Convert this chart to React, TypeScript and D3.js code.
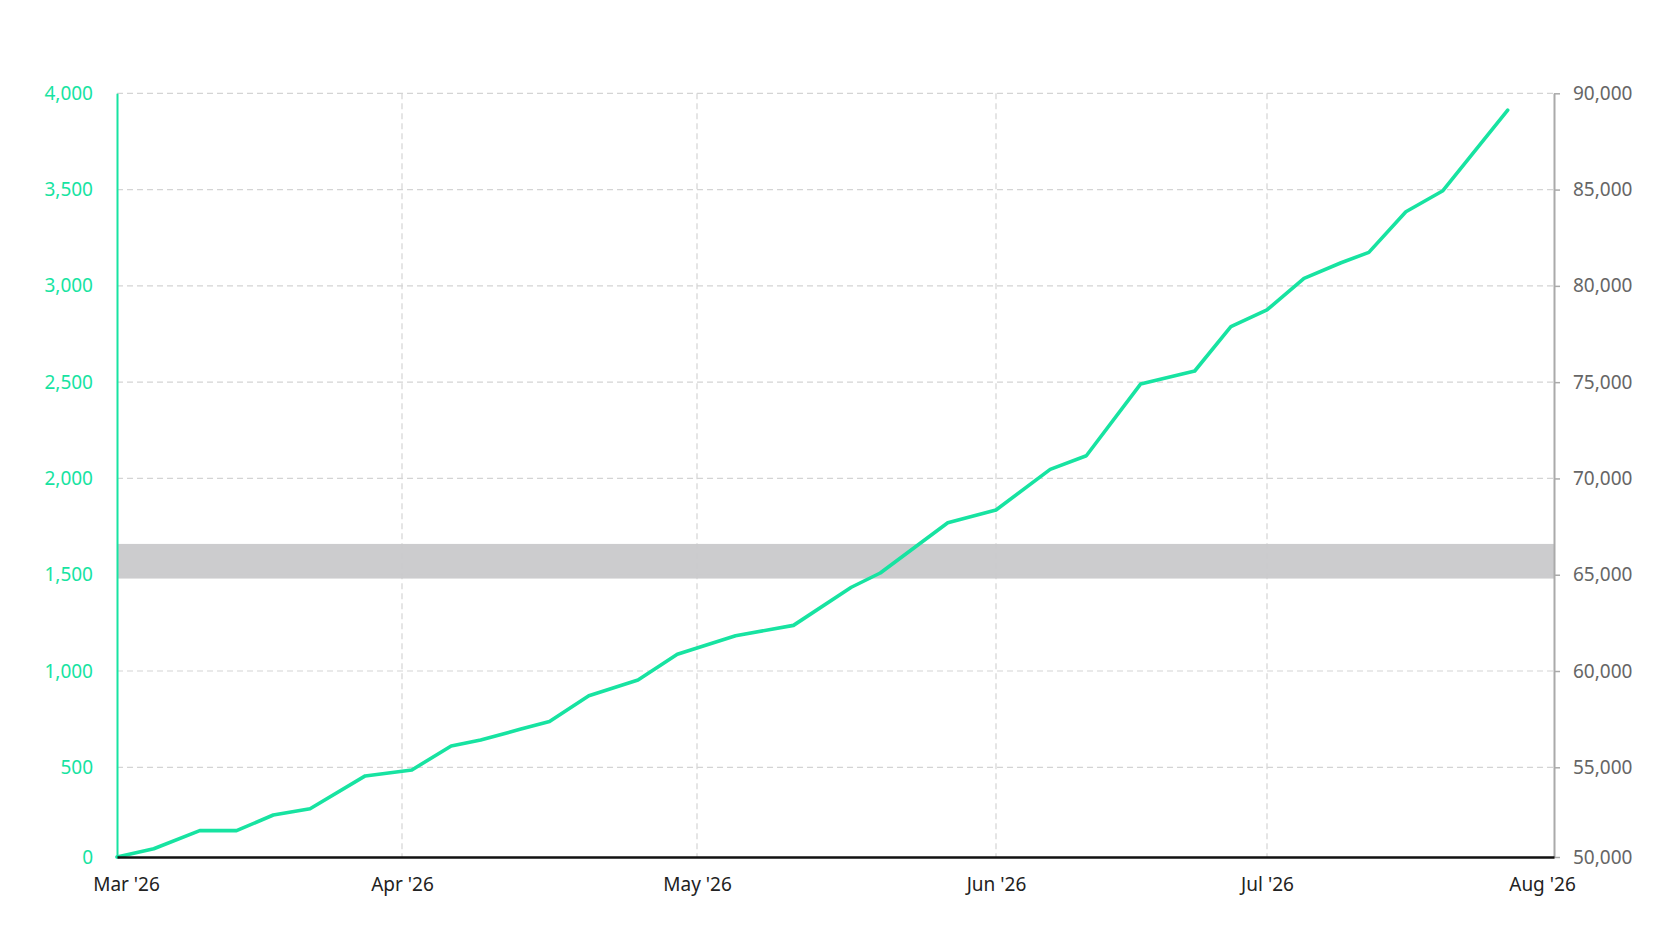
import * as d3 from "d3";
import { useRef, useEffect } from "react";

// weekly-ish readings of the cumulative series (left axis units)
const dates = [
  "2026-03-01", "2026-03-05", "2026-03-10", "2026-03-14", "2026-03-18", "2026-03-22", "2026-03-28",
  "2026-04-02", "2026-04-06", "2026-04-09", "2026-04-13", "2026-04-16", "2026-04-20", "2026-04-25", "2026-04-29",
  "2026-05-05", "2026-05-11", "2026-05-17", "2026-05-20", "2026-05-27",
  "2026-06-01", "2026-06-07", "2026-06-11", "2026-06-17", "2026-06-23", "2026-06-27",
  "2026-07-01", "2026-07-05", "2026-07-09", "2026-07-12", "2026-07-16", "2026-07-20", "2026-07-27",
];
const values = [
  0, 46, 147, 147, 234, 269, 452,
  485, 611, 642, 697, 738, 872, 953, 1087,
  1183, 1237, 1435, 1509, 1770,
  1836, 2047, 2118, 2490, 2558, 2788,
  2875, 3039, 3120, 3174, 3385, 3494, 3913,
];
const monthTicks = ["2026-03-01", "2026-04-01", "2026-05-01", "2026-06-01", "2026-07-01", "2026-08-01"];
const leftTicks = [0, 500, 1000, 1500, 2000, 2500, 3000, 3500, 4000];
const rightTicks = [50000, 55000, 60000, 65000, 70000, 75000, 80000, 85000, 90000];
const band = [64800, 66600]; // shaded range on the right axis

const GREEN = "#17e3a1";
const FONT = "'Noto Sans', sans-serif";

export function DualAxisChart({ width = 1672, height = 941 }) {
  const gx = useRef(null);
  const gyl = useRef(null);
  const gyr = useRef(null);

  const parse = d3.utcParse("%Y-%m-%d");
  const months = monthTicks.map(parse);
  // month columns in the source are not evenly wide, so map each boundary
  const x = d3.scaleUtc(months, [117, 402, 697, 996, 1267, 1554]);
  // the lowest band of the source is a bit shorter than the others
  const yL = d3.scaleLinear([0, 500, 4000], [857, 767.3, 93.3]);
  const yR = d3.scaleLinear([50000, 55000, 90000], [857, 767.3, 93.3]);
  const data = dates.map((d, i) => ({ date: parse(d), value: values[i] }));
  const line = d3.line((d) => x(d.date), (d) => yL(d.value));
  const fmt = d3.format(",");
  const fmtMonth = d3.utcFormat("%b '%y");

  useEffect(() => {
    const g = d3.select(gx.current);
    g.call(d3.axisBottom(x).tickValues(months).tickFormat(fmtMonth).tickSize(0).tickPadding(21));
    g.select(".domain").attr("stroke", "#111").attr("stroke-width", 2.5);
    g.selectAll("text")
      .attr("font-family", FONT).attr("font-size", 19).attr("fill", "#222")
      .attr("dx", (_, i) => (i === 0 ? 9 : i === months.length - 1 ? -12 : 0));
  }, []);

  useEffect(() => {
    const g = d3.select(gyl.current);
    g.call(d3.axisLeft(yL).tickValues(leftTicks).tickFormat(fmt).tickSize(0).tickPadding(24));
    g.select(".domain").attr("stroke", GREEN).attr("stroke-width", 2);
    g.selectAll("text").attr("font-family", FONT).attr("font-size", 19).attr("fill", GREEN);
  }, []);

  useEffect(() => {
    const g = d3.select(gyr.current);
    g.call(d3.axisRight(yR).tickValues(rightTicks).tickFormat(fmt).tickSizeInner(6).tickSizeOuter(0).tickPadding(13));
    g.select(".domain").attr("stroke", "#aaa").attr("stroke-width", 2);
    g.selectAll("line").attr("stroke", "#aaa").attr("stroke-width", 1.5);
    g.selectAll("text").attr("font-family", FONT).attr("font-size", 19).attr("fill", "#666");
  }, []);

  return (
    <svg width={width} height={height} style={{ position: "absolute", left: 0, top: 0, background: "#fff" }}>
      <g stroke="#d4d4d4" strokeWidth={1.2} strokeDasharray="6,4">
        {leftTicks.slice(1).map((t) => (
          <line key={t} x1={x.range()[0]} x2={x.range()[5]} y1={yL(t)} y2={yL(t)} />
        ))}
        {months.slice(1, -1).map((m, i) => (
          <line key={i} x1={x(m)} x2={x(m)} y1={yL(4000)} y2={yL(0)} />
        ))}
      </g>
      <rect
        x={x.range()[0]}
        width={x.range()[5] - x.range()[0]}
        y={yR(band[1])}
        height={yR(band[0]) - yR(band[1])}
        fill="#c9c9cb"
        opacity={0.95}
      />
      <path fill="none" stroke={GREEN} strokeWidth={3.6} strokeLinejoin="round" strokeLinecap="round" d={line(data)} />
      <g ref={gyr} transform={`translate(${x.range()[5]},0)`} />
      <g ref={gyl} transform={`translate(${x.range()[0]},0)`} />
      <g ref={gx} transform={`translate(0,${yL(0)})`} />
    </svg>
  );
}

export default function App() {
  return <DualAxisChart />;
}
